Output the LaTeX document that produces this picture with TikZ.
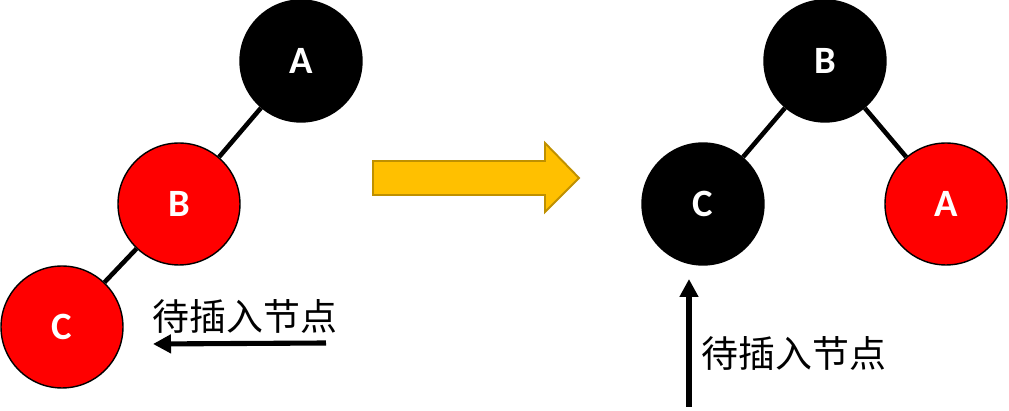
\documentclass[tikz,border=0pt]{standalone}
\usepackage{fontspec}
\setmainfont{Carlito}
\newfontfamily\cjk{Noto Sans CJK SC}
\usetikzlibrary{arrows.meta}
\definecolor{NodeRed}{RGB}{255,0,0}
\definecolor{ArrowGold}{RGB}{255,192,0}
\definecolor{ArrowEdge}{RGB}{191,144,0}
\tikzset{
  rbnode/.style={circle, draw=black, line width=0.8pt, minimum size=2.44cm, inner sep=0pt,
    font=\fontsize{22}{22}\selectfont\bfseries, text=white},
  rednode/.style={rbnode, fill=NodeRed},
  blacknode/.style={rbnode, fill=black},
  treeedge/.style={line width=2.6pt},
  pointer/.style={-{Triangle[length=0.36cm, width=0.36cm]}, line width=2.9pt},
  hint/.style={font=\cjk\fontsize{21}{21}\selectfont, inner sep=0pt},
  bigarrow/.style={fill=ArrowGold, draw=ArrowEdge, line width=1.1pt, line join=miter},
}

\begin{document}
\begin{tikzpicture}[x=0.02cm, y=-0.02cm]
  \useasboundingbox (0,0) rectangle (1009,411);
  % before: A - B - C in a line
  \node[blacknode] (la) at (301,61) {A};
  \node[rednode] (lb) at (179,204) {B};
  \node[rednode] (lc) at (62,327) {C};
  \draw[treeedge] (la) -- (lb);
  \draw[treeedge] (lb) -- (lc);
  \node[hint] (lhint) at (245,317) {待插入节点};
  \coordinate (ltail) at (326,343);
  \coordinate (ltip) at (153,344);
  \draw[pointer] (ltail) -- (ltip);
  % rotation
  \draw[bigarrow] (373,161) -- (545,161) -- (545,143) -- (579,178) -- (545,212)
    -- (545,195) -- (373,195) -- cycle;
  % after: B on top
  \node[blacknode] (rb) at (825,61) {B};
  \node[blacknode] (rc) at (703,204) {C};
  \node[rednode] (ra) at (946,204) {A};
  \draw[treeedge] (rb) -- (rc);
  \draw[treeedge] (rb) -- (ra);
  \node[hint] (rhint) at (794,354) {待插入节点};
  \coordinate (rtail) at (689,407);
  \coordinate (rtip) at (689,279);
  \draw[pointer] (rtail) -- (rtip);
\end{tikzpicture}
\end{document}
